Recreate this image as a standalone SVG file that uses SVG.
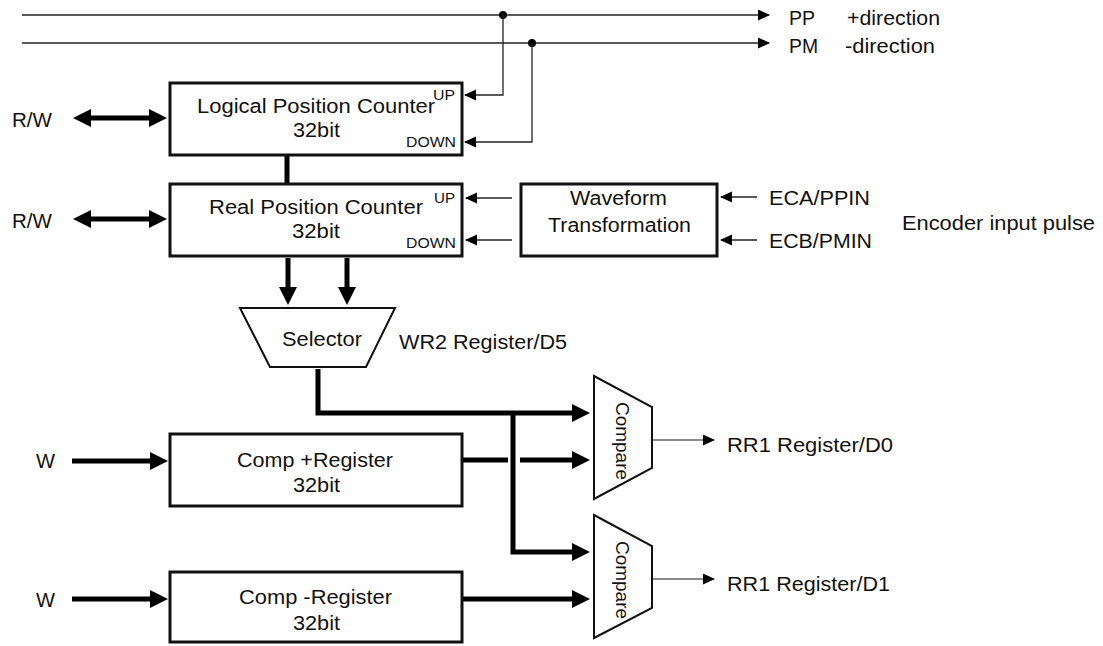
<svg xmlns="http://www.w3.org/2000/svg" width="1103" height="646" viewBox="0 0 1103 646">
<style>
text{font-family:"Liberation Sans",Arial,sans-serif;font-size:20px;fill:#111}
.sm{font-size:15px}
.box{fill:#fff;stroke:#111;stroke-width:3}
.trap{fill:#fff;stroke:#111;stroke-width:2}
.thin{fill:none;stroke:#222;stroke-width:1.3}
.out{fill:none;stroke:#666;stroke-width:1.5}
.thick{fill:none;stroke:#000;stroke-width:5;stroke-linejoin:miter}
</style>
<defs>
<marker id="ah" markerUnits="userSpaceOnUse" markerWidth="20" markerHeight="20" refX="4" refY="9" orient="auto-start-reverse"><path d="M0,0 L18,9 L0,18 z" fill="#000"/></marker>
<marker id="at" markerUnits="userSpaceOnUse" markerWidth="14" markerHeight="12" refX="11" refY="5.5" orient="auto"><path d="M0,0 L12,5.5 L0,11 z" fill="#000"/></marker>
</defs>
<rect width="1103" height="646" fill="#fff"/>

<g id="connectors">
<path class="thin" d="M22,15 H769" marker-end="url(#at)"/>
<path class="thin" d="M22,43 H769" marker-end="url(#at)"/>
<circle cx="503" cy="15" r="4" fill="#000"/>
<circle cx="532" cy="43" r="4" fill="#000"/>
<path class="thin" d="M503,15 V95 H465" marker-end="url(#at)"/>
<path class="thin" d="M532,43 V142 H465" marker-end="url(#at)"/>
<path class="thick" d="M87,118 H153" marker-start="url(#ah)" marker-end="url(#ah)"/>
<path class="thick" d="M87,219 H153" marker-start="url(#ah)" marker-end="url(#ah)"/>
<path class="thick" d="M287,155 V183"/>
<path class="thin" d="M512,198 H466" marker-end="url(#at)"/>
<path class="thin" d="M512,240 H466" marker-end="url(#at)"/>
<path class="thin" d="M757,197 H721" marker-end="url(#at)"/>
<path class="thin" d="M757,240 H721" marker-end="url(#at)"/>
<path class="thick" d="M288,258 V291" marker-end="url(#ah)"/>
<path class="thick" d="M347,258 V291" marker-end="url(#ah)"/>
<path class="thick" d="M318,369 V413 H576" marker-end="url(#ah)"/>
<path class="thick" d="M513,413 V552 H576" marker-end="url(#ah)"/>
<path class="thick" d="M463,460 H508"/>
<path class="thick" d="M520,460 H576" marker-end="url(#ah)"/>
<path class="thick" d="M463,599 H576" marker-end="url(#ah)"/>
<path class="thick" d="M72,461 H154" marker-end="url(#ah)"/>
<path class="thick" d="M72,599 H154" marker-end="url(#ah)"/>
<path class="out" d="M652,440 H714" marker-end="url(#at)"/>
<path class="out" d="M652,579 H714" marker-end="url(#at)"/>
</g>

<g id="labels-top">
<text x="789" y="25" textLength="26" lengthAdjust="spacingAndGlyphs">PP</text>
<text x="847" y="25" textLength="93" lengthAdjust="spacingAndGlyphs">+direction</text>
<text x="789" y="53" textLength="29" lengthAdjust="spacingAndGlyphs">PM</text>
<text x="845" y="53" textLength="90" lengthAdjust="spacingAndGlyphs">-direction</text>
<text x="12" y="127" textLength="40" lengthAdjust="spacingAndGlyphs">R/W</text>
<text x="12" y="228" textLength="40" lengthAdjust="spacingAndGlyphs">R/W</text>
</g>

<g id="logical">
<rect class="box" x="170" y="83" width="292" height="72"/>
<text x="197" y="113" textLength="238" lengthAdjust="spacingAndGlyphs">Logical Position Counter</text>
<text x="293" y="137" textLength="47" lengthAdjust="spacingAndGlyphs">32bit</text>
<text class="sm" x="433" y="100" textLength="22" lengthAdjust="spacingAndGlyphs">UP</text>
<text class="sm" x="406" y="147" textLength="50" lengthAdjust="spacingAndGlyphs">DOWN</text>
</g>

<g id="real">
<rect class="box" x="170" y="184" width="292" height="72"/>
<text x="209" y="214" textLength="214" lengthAdjust="spacingAndGlyphs">Real Position Counter</text>
<text x="292" y="238" textLength="48" lengthAdjust="spacingAndGlyphs">32bit</text>
<text class="sm" x="434" y="203" textLength="21" lengthAdjust="spacingAndGlyphs">UP</text>
<text class="sm" x="406" y="248" textLength="50" lengthAdjust="spacingAndGlyphs">DOWN</text>
</g>

<g id="waveform">
<rect class="box" x="521" y="184" width="196" height="72"/>
<text x="570" y="205" textLength="97" lengthAdjust="spacingAndGlyphs">Waveform</text>
<text x="548" y="232" textLength="143" lengthAdjust="spacingAndGlyphs">Transformation</text>
</g>

<g id="encoder-labels">
<text x="769" y="205" textLength="101" lengthAdjust="spacingAndGlyphs">ECA/PPIN</text>
<text x="769" y="248" textLength="103" lengthAdjust="spacingAndGlyphs">ECB/PMIN</text>
<text x="902" y="230" textLength="193" lengthAdjust="spacingAndGlyphs">Encoder input pulse</text>
</g>

<g id="selector">
<polygon class="trap" points="240,308 395,308 366,367 270,367"/>
<text x="282" y="346" textLength="80" lengthAdjust="spacingAndGlyphs">Selector</text>
<text x="399" y="349" textLength="168" lengthAdjust="spacingAndGlyphs">WR2 Register/D5</text>
</g>

<g id="comp-plus">
<text x="36" y="468" textLength="19" lengthAdjust="spacingAndGlyphs">W</text>
<rect class="box" x="170" y="434" width="292" height="72"/>
<text x="237" y="467" textLength="156" lengthAdjust="spacingAndGlyphs">Comp +Register</text>
<text x="293" y="492" textLength="47" lengthAdjust="spacingAndGlyphs">32bit</text>
</g>

<g id="comp-minus">
<text x="36" y="607" textLength="19" lengthAdjust="spacingAndGlyphs">W</text>
<rect class="box" x="170" y="572" width="292" height="70"/>
<text x="239" y="604" textLength="153" lengthAdjust="spacingAndGlyphs">Comp -Register</text>
<text x="293" y="630" textLength="47" lengthAdjust="spacingAndGlyphs">32bit</text>
</g>

<g id="compare1">
<polygon class="trap" points="594,376 652,407 652,468 594,499"/>
<text x="0" y="0" font-size="19" text-anchor="middle" transform="translate(616,441) rotate(90)" style="font-size:19px">Compare</text>
<text x="727" y="452" textLength="166" lengthAdjust="spacingAndGlyphs">RR1 Register/D0</text>
</g>

<g id="compare2">
<polygon class="trap" points="594,515 652,546 652,608 594,638"/>
<text x="0" y="0" text-anchor="middle" transform="translate(616,580) rotate(90)" style="font-size:19px">Compare</text>
<text x="727" y="591" textLength="163" lengthAdjust="spacingAndGlyphs">RR1 Register/D1</text>
</g>
</svg>
